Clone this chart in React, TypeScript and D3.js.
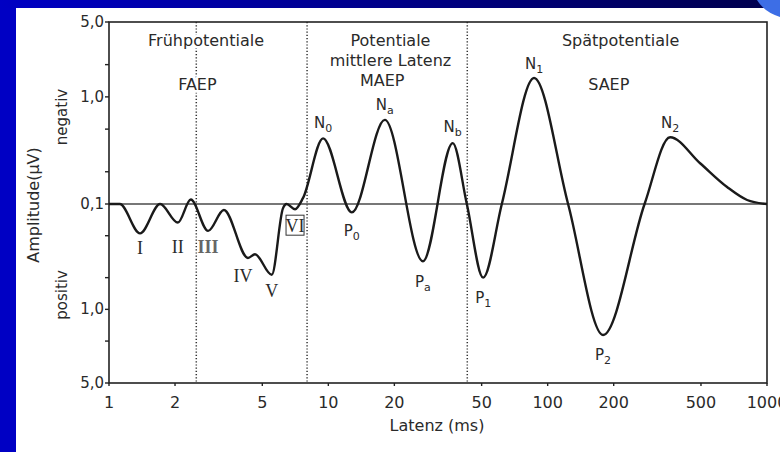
import React from "react";
import * as d3 from "d3";

// ---- data ----
// latency in ms, amplitude in µV (negative = "negativ", drawn upward)
const latency = [1, 1.12, 1.385, 1.71, 2.06, 2.36, 2.83, 3.34, 4.3, 4.63, 5.52, 6.21, 6.45, 7.05, 7.67, 9.46, 12.8, 18.1, 27.0, 36.9, 42.8, 50.8, 61.8, 86.7, 123.9, 178.9, 276.6, 361.5, 495.5, 657.7, 811.6, 1000];
const amplitude = [0.1, 0.1, 0.19, 0.1, 0.15, -0.11, 0.18, 0.114, 0.325, 0.3, 0.47, 0.11, 0.1, 0.112, -0.114, -0.41, 0.12, -0.61, 0.35, -0.37, 0.1, 0.5, 0.1, -1.5, 0.1, 1.75, 0.1, -0.42, -0.24, -0.144, -0.109, 0.1];

const xTicks = [1, 2, 5, 10, 20, 50, 100, 200, 500, 1000];
const yTicks = [-5, -2, -1, -0.5, -0.2, 0.1, 0.2, 0.5, 1, 2, 5];
const yTickLabels = [-5, -1, 0.1, 1, 5];
const boundaries = [2.5, 8, 43];

const peakNames = ["N", "N", "N", "N", "N", "P", "P", "P", "P"];
const peakSubs = ["0", "a", "b", "1", "2", "0", "a", "1", "2"];
const peakIndex = [15, 17, 19, 23, 27, 16, 18, 21, 25];

const romanNames = ["I", "II", "III", "IV", "V", "VI"];
const romanIndex = [2, 4, 6, 8, 10, 13];

const regionTexts = ["Frühpotentiale", "FAEP", "Potentiale", "mittlere Latenz", "MAEP", "Spätpotentiale", "SAEP"];
const regionLatency = [2.77, 2.53, 19.2, 19.2, 17.6, 215, 190];

// ---- layout ----
const L = 109, R = 767, T = 22, B = 383, Y0 = 204;
const peakDy = [-10, -10, -11, -9, -9, 24, 26, 25, 25];
const romanDy = [21, 30, 22, 24, 22, 23];
const romanDx = [0, 0, 0, -5, 0, 0];
const regionY = [46, 90, 46, 66, 86, 46, 90];

const tf = (a: number) => (a < 0 ? 1 : -1) * Math.log10(Math.abs(a) / 0.1);

export default function App() {
  const x = d3.scaleLog().domain([1, 1000]).range([L, R]);
  const lg = Math.log10(50);
  const y = d3.scaleLinear().domain([-lg, 0, lg]).range([B, Y0, T]);

  const pts = latency.map((l, i) => [x(l), y(tf(amplitude[i]))] as [number, number]);
  const path = d3.line().curve(d3.curveMonotoneX)(pts) || "";

  const txt = "#2a2a2a";
  const font = "DejaVu Sans, sans-serif";

  return (
    <svg width={780} height={452} style={{ position: "absolute", left: 0, top: 0, display: "block" }} fontFamily={font}>
      <defs>
        <linearGradient id="topband" x1="0" x2="1" y1="0" y2="0">
          <stop offset="0" stopColor="#0000c4" />
          <stop offset="1" stopColor="#00004c" />
        </linearGradient>
      </defs>
      <rect width={780} height={452} fill="#0000c4" />
      <rect width={780} height={8} fill="url(#topband)" />
      <rect x={16} y={8} width={764} height={444} fill="#ffffff" />
      <path d="M757,0 Q764,12 780,17 L780,0 Z" fill="#3d6ee6" />

      {/* baseline */}
      <line x1={L} x2={R} y1={Y0} y2={Y0} stroke="#777" strokeWidth={1.8} />

      {/* region boundaries */}
      {boundaries.map((b, i) => (
        <line key={i} x1={x(b)} x2={x(b)} y1={T} y2={B} stroke="#333" strokeWidth={1.5} strokeDasharray="1.2 2" />
      ))}

      {/* frame */}
      <rect x={L} y={T} width={R - L} height={B - T} fill="none" stroke="#222" strokeWidth={1.6} />

      {/* y ticks */}
      {yTicks.map((v, i) => (
        <line key={i} x1={L - 4} x2={L} y1={y(tf(v))} y2={y(tf(v))} stroke="#222" strokeWidth={1.4} />
      ))}
      {yTickLabels.map((v, i) => (
        <text key={i} x={L - 5} y={y(tf(v))} textAnchor="end" dominantBaseline="central" fontSize={15} fill={txt}>
          {Math.abs(v).toFixed(1).replace(".", ",")}
        </text>
      ))}

      {/* x ticks */}
      {xTicks.map((v, i) => (
        <g key={i}>
          <line x1={x(v)} x2={x(v)} y1={B} y2={B + 3} stroke="#222" strokeWidth={1.4} />
          <text x={x(v)} y={402} textAnchor="middle" dominantBaseline="central" fontSize={16} fill={txt}>
            {v}
          </text>
        </g>
      ))}

      {/* axis titles */}
      <text x={437} y={425} textAnchor="middle" dominantBaseline="central" fontSize={16} fill={txt}>
        Latenz (ms)
      </text>
      <text transform="translate(33,205) rotate(-90)" textAnchor="middle" dominantBaseline="central" fontSize={16} fill={txt}>
        Amplitude(µV)
      </text>
      <text transform="translate(62,117) rotate(-90)" textAnchor="middle" dominantBaseline="central" fontSize={15} fill={txt}>
        negativ
      </text>
      <text transform="translate(62,295) rotate(-90)" textAnchor="middle" dominantBaseline="central" fontSize={15} fill={txt}>
        positiv
      </text>

      {/* region labels */}
      {regionTexts.map((t, i) => (
        <text key={i} x={x(regionLatency[i])} y={regionY[i]} textAnchor="middle" fontSize={16} fill={txt}
          stroke="#fff" strokeWidth={5} paintOrder="stroke" strokeLinejoin="round">
          {t}
        </text>
      ))}

      {/* curve */}
      <path d={path} fill="none" stroke="#1a1a1a" strokeWidth={2.4} strokeLinejoin="round" />

      {/* peak labels */}
      {peakNames.map((n, i) => {
        const p = pts[peakIndex[i]];
        return (
          <text key={i} x={p[0]} y={p[1] + peakDy[i]} textAnchor="middle" fontSize={15} fill={txt}>
            {n}
            <tspan fontSize={11} dy={4}>{peakSubs[i]}</tspan>
          </text>
        );
      })}

      {/* roman numerals */}
      {romanNames.map((n, i) => {
        const p = pts[romanIndex[i]];
        const cx = p[0] + romanDx[i];
        const by = p[1] + romanDy[i];
        return (
          <g key={i}>
            {n === "VI" && (
              <rect x={cx - 9} y={by - 17} width={18} height={20} fill="none" stroke="#333" strokeWidth={1} />
            )}
            <text x={cx} y={by} textAnchor="middle" fontSize={18} fontFamily="Liberation Serif, serif"
              fill={n === "III" ? "#666" : txt} fontWeight={n === "III" ? "bold" : "normal"}>
              {n}
            </text>
          </g>
        );
      })}
    </svg>
  );
}
